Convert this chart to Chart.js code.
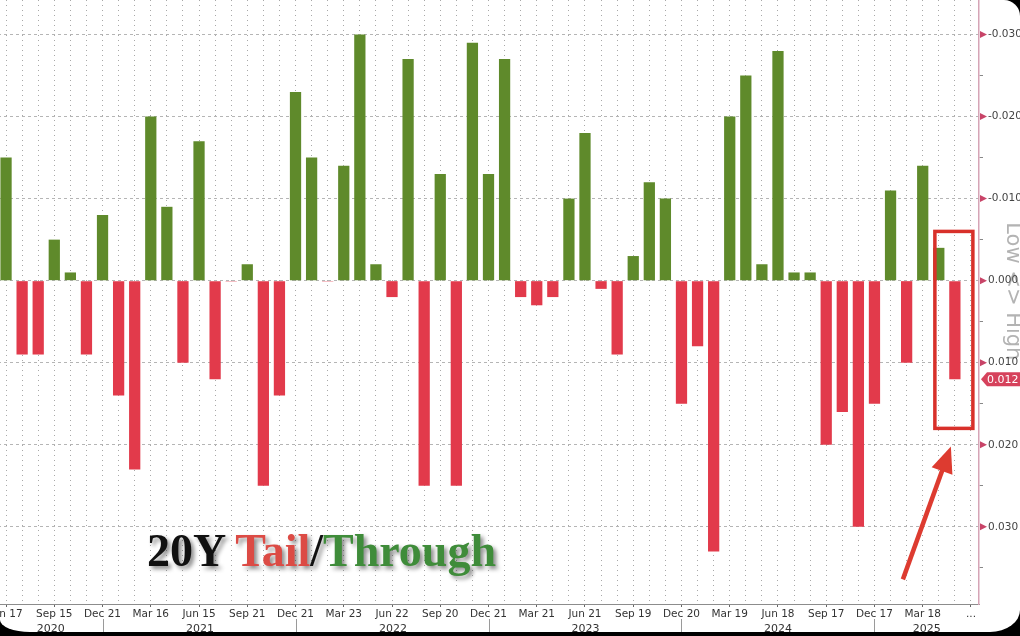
<!DOCTYPE html>
<html>
<head>
<meta charset="utf-8">
<script src="https://cdn.jsdelivr.net/npm/chart.js@4.4.0/dist/chart.umd.min.js"></script>
<style>
    html, body { margin: 0; padding: 0; background: #000; }
    #frame {
        position: absolute; left: 0; top: 0;
        width: 1020px; height: 632px;
        background: #fff; overflow: hidden;
        border-radius: 0 16px 30px 30px / 0 16px 22px 12px;
    }
    #wrap { position: absolute; left: -2px; top: 0; width: 1022px; height: 636px; }
    #title {
        position: absolute; left: 147px; top: 528px;
        font: bold 46px "Liberation Serif", "DejaVu Serif", serif;
        line-height: 46px; white-space: nowrap;
        text-shadow: 3px 3px 4px rgba(0, 0, 0, 0.45);
        color: #111;
    }
    #title .tail { color: #dc4b45; }
    #title .through { color: #3f8c3a; }
</style>
</head>
<body>
<div id="frame">
    <div id="wrap"><canvas id="auctionChart"></canvas></div>
    <div id="title">20Y <span class="tail">Tail</span>/<span class="through">Through</span></div>
</div>

<script>
// 20Y auction tail (+) / through (-), one bar per auction, Jun 2020 .. May 2025
const tailThrough = [
    -0.015, 0.009, 0.009, -0.005, -0.001, 0.009, -0.008, 0.014, 0.023, -0.020,
    -0.009, 0.010, -0.017, 0.012, 0.0001, -0.002, 0.025, 0.014, -0.023, -0.015,
    0.0001, -0.014, -0.030, -0.002, 0.002, -0.027, 0.025, -0.013, 0.025, -0.029,
    -0.013, -0.027, 0.002, 0.003, 0.002, -0.010, -0.018, 0.001, 0.009, -0.003,
    -0.012, -0.010, 0.015, 0.008, 0.033, -0.020, -0.025, -0.002, -0.028, -0.001,
    -0.001, 0.020, 0.016, 0.030, 0.015, -0.011, 0.010, -0.014, -0.004, 0.012
];

// labels shown on every third auction (the last slot is the "..." one)
const tickLabels = ['Jun 17', 'Sep 15', 'Dec 21', 'Mar 16', 'Jun 15', 'Sep 21', 'Dec 21',
    'Mar 23', 'Jun 22', 'Sep 20', 'Dec 21', 'Mar 21', 'Jun 21', 'Sep 19', 'Dec 20',
    'Mar 19', 'Jun 18', 'Sep 17', 'Dec 17', 'Mar 18', '...'];

const years = ['2020', '2021', '2022', '2023', '2024', '2025'];
// index of the December auction that closes each year
const yearEnds = [6, 18, 30, 42, 54];

const GREEN = '#5f8a2b';
const RED = '#e23a4b';

const categories = tickLabels.flatMap((lbl, i) => i < tickLabels.length - 1 ? [lbl, '', ''] : [lbl]).slice(0, tailThrough.length + 1);

function isMajor(v) {
    return Math.round(v * 1000) % 10 === 0;
}

const overlay = {
    id: 'overlay',
    beforeDraw(chart) {
        const { ctx, chartArea } = chart;
        const ys = chart.scales.y;
        // axis title, under the tick labels
        ctx.save();
        ctx.translate(chartArea.right + 33, ys.getPixelForValue(0.0013));
        ctx.rotate(Math.PI / 2);
        ctx.font = '21px "DejaVu Sans", sans-serif';
        ctx.fillStyle = '#b3b3b3';
        ctx.textAlign = 'center';
        ctx.textBaseline = 'middle';
        ctx.fillText('Low <> High', 0, 0);
        ctx.restore();
    },
    afterDraw(chart) {
        const { ctx, chartArea } = chart;
        const xs = chart.scales.x, ys = chart.scales.y;
        ctx.save();

        // major tick arrows on the right axis
        ctx.fillStyle = '#c84468';
        ys.ticks.forEach(t => {
            if (!isMajor(t.value)) return;
            const y = ys.getPixelForValue(t.value);
            ctx.beginPath();
            ctx.moveTo(chartArea.right + 1, y - 3.5);
            ctx.lineTo(chartArea.right + 8, y);
            ctx.lineTo(chartArea.right + 1, y + 3.5);
            ctx.closePath();
            ctx.fill();
        });

        // last value tag
        const last = tailThrough[tailThrough.length - 1];
        const ty = ys.getPixelForValue(last);
        const tx = chartArea.right + 2;
        ctx.fillStyle = '#d6425c';
        ctx.beginPath();
        ctx.moveTo(tx, ty);
        ctx.lineTo(tx + 6, ty - 7);
        ctx.lineTo(tx + 45, ty - 7);
        ctx.lineTo(tx + 45, ty + 7);
        ctx.lineTo(tx + 6, ty + 7);
        ctx.closePath();
        ctx.fill();
        ctx.fillStyle = '#fff';
        ctx.font = '11px "DejaVu Sans", sans-serif';
        ctx.textAlign = 'left';
        ctx.textBaseline = 'middle';
        ctx.fillText(last.toFixed(3), tx + 6, ty + 0.5);

        // year separators and labels
        ctx.strokeStyle = '#9a9a9a';
        ctx.lineWidth = 1;
        const seps = yearEnds.map(i => Math.round(xs.getPixelForValue(i)) + 0.5);
        seps.forEach(x => {
            ctx.beginPath();
            ctx.moveTo(x, chartArea.bottom + 15);
            ctx.lineTo(x, chartArea.bottom + 34);
            ctx.stroke();
        });
        const bounds = [chartArea.left].concat(seps, [chartArea.right]);
        ctx.fillStyle = '#333';
        ctx.font = '11px "DejaVu Sans", sans-serif';
        ctx.textAlign = 'center';
        years.forEach((yr, i) => {
            ctx.fillText(yr, (bounds[i] + bounds[i + 1]) / 2, chartArea.bottom + 25);
        });

        // highlight box and arrow on the latest auction
        const cx = xs.getPixelForValue(tailThrough.length - 1);
        const top = ys.getPixelForValue(-0.006), bot = ys.getPixelForValue(0.018);
        ctx.strokeStyle = '#d8302a';
        ctx.lineWidth = 3.5;
        ctx.strokeRect(cx - 20, top, 38, bot - top);

        const x0 = cx - 52, y0 = ys.getPixelForValue(0.0364);
        const x1 = cx - 4, y1 = ys.getPixelForValue(0.0202);
        const ang = Math.atan2(y1 - y0, x1 - x0);
        ctx.strokeStyle = '#dd3b30';
        ctx.fillStyle = '#dd3b30';
        ctx.lineWidth = 4.5;
        ctx.beginPath();
        ctx.moveTo(x0, y0);
        ctx.lineTo(x1 - 18 * Math.cos(ang), y1 - 18 * Math.sin(ang));
        ctx.stroke();
        ctx.beginPath();
        ctx.moveTo(x1, y1);
        ctx.lineTo(x1 - 26 * Math.cos(ang) + 11 * Math.sin(ang), y1 - 26 * Math.sin(ang) - 11 * Math.cos(ang));
        ctx.lineTo(x1 - 26 * Math.cos(ang) - 11 * Math.sin(ang), y1 - 26 * Math.sin(ang) + 11 * Math.cos(ang));
        ctx.closePath();
        ctx.fill();

        ctx.restore();
    }
};

const ctx = document.getElementById('auctionChart').getContext('2d');

new Chart(ctx, {
    type: 'bar',
    data: {
        labels: categories,
        datasets: [{
            label: '20Y Tail/Through',
            data: tailThrough,
            backgroundColor: c => (c.raw > 0 ? RED : GREEN),
            barPercentage: 0.7,
            categoryPercentage: 1.0
        }]
    },
    options: {
        responsive: true,
        maintainAspectRatio: false,
        animation: false,
        layout: { padding: 0 },
        plugins: {
            legend: { display: false },
            tooltip: { enabled: false }
        },
        scales: {
            x: {
                offset: true,
                afterFit: s => { s.height = 32; s.paddingLeft = 0; s.paddingRight = 0; },
                grid: {
                    offset: false,
                    color: '#a8a8a8',
                    tickColor: c => (c.index % 3 === 0 ? '#666' : 'transparent'),
                    tickLength: 3
                },
                border: { color: '#8c8c8c', width: 1, dash: [1, 4] },
                ticks: {
                    autoSkip: false,
                    maxRotation: 0,
                    padding: 1,
                    color: '#333',
                    font: { family: 'DejaVu Sans', size: 10.5 },
                    callback: (v, i) => categories[i]
                }
            },
            y: {
                position: 'right',
                reverse: true,
                min: -0.0342,
                max: 0.0394,
                afterFit: s => { s.width = 41; s.paddingTop = 0; s.paddingBottom = 0; },
                grid: {
                    color: c => (c.tick && isMajor(c.tick.value) ? '#b5b5b5' : 'transparent'),
                    tickColor: c => (c.tick && !isMajor(c.tick.value) ? '#888' : 'transparent'),
                    tickLength: 4
                },
                border: { color: '#d6a4b6', width: 1.5, dash: [3, 3] },
                ticks: {
                    stepSize: 0.005,
                    includeBounds: false,
                    padding: 5,
                    color: '#444',
                    font: { family: 'DejaVu Sans', size: 10.5 },
                    callback: v => {
                        if (!isMajor(v)) return '';
                        if (Math.abs(v) < 1e-9) return '0.000';
                        return (Math.round(v * 1000) / 1000).toFixed(3);
                    }
                }
            }
        }
    },
    plugins: [overlay]
});
</script>
</body>
</html>
